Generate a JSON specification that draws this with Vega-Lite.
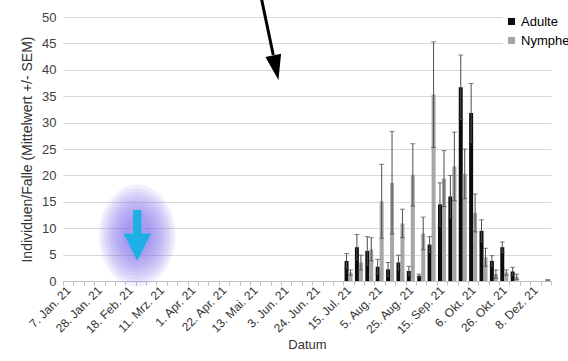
{
  "$schema": "https://vega.github.io/schema/vega-lite/v6.json",
  "width": 488,
  "height": 264,
  "autosize": {"type": "none"},
  "padding": {"left": 63, "top": 17, "right": 17, "bottom": 80},
  "background": "white",
  "config": {"view": {"stroke": null}, "font": "Liberation Sans"},
  "datasets": {
    "bars": [
      {"date": "15. Jul. 21", "series": "Adulte", "mean": 3.8, "lo": 2.4, "hi": 5.2},
      {"date": "15. Jul. 21", "series": "Nymphen", "mean": 1.6, "lo": 1.1, "hi": 2.1},
      {"date": "22. Jul. 21", "series": "Adulte", "mean": 6.4, "lo": 4.0, "hi": 8.8},
      {"date": "22. Jul. 21", "series": "Nymphen", "mean": 3.5, "lo": 2.1, "hi": 4.9},
      {"date": "29. Jul. 21", "series": "Adulte", "mean": 5.7, "lo": 3.0, "hi": 8.4},
      {"date": "29. Jul. 21", "series": "Nymphen", "mean": 6.0, "lo": 3.8, "hi": 8.2},
      {"date": "5. Aug. 21", "series": "Adulte", "mean": 2.7, "lo": 1.3, "hi": 4.1},
      {"date": "5. Aug. 21", "series": "Nymphen", "mean": 15.1, "lo": 8.1, "hi": 22.1},
      {"date": "12. Aug. 21", "series": "Adulte", "mean": 2.2, "lo": 0.9, "hi": 3.5},
      {"date": "12. Aug. 21", "series": "Nymphen", "mean": 18.6, "lo": 8.9, "hi": 28.3},
      {"date": "18. Aug. 21", "series": "Adulte", "mean": 3.5, "lo": 2.1, "hi": 4.9},
      {"date": "18. Aug. 21", "series": "Nymphen", "mean": 10.9, "lo": 8.2, "hi": 13.6},
      {"date": "25. Aug. 21", "series": "Adulte", "mean": 1.9, "lo": 1.0, "hi": 2.8},
      {"date": "25. Aug. 21", "series": "Nymphen", "mean": 20.1, "lo": 14.2, "hi": 26.0},
      {"date": "1. Sep. 21", "series": "Adulte", "mean": 1.0, "lo": 0.7, "hi": 1.3},
      {"date": "1. Sep. 21", "series": "Nymphen", "mean": 9.0, "lo": 5.9, "hi": 12.1},
      {"date": "8. Sep. 21", "series": "Adulte", "mean": 6.9, "lo": 5.4, "hi": 8.4},
      {"date": "8. Sep. 21", "series": "Nymphen", "mean": 35.3, "lo": 25.3, "hi": 45.3},
      {"date": "15. Sep. 21", "series": "Adulte", "mean": 14.5, "lo": 10.4, "hi": 18.6},
      {"date": "15. Sep. 21", "series": "Nymphen", "mean": 19.4, "lo": 14.1, "hi": 24.7},
      {"date": "22. Sep. 21", "series": "Adulte", "mean": 16.0, "lo": 12.0, "hi": 20.0},
      {"date": "22. Sep. 21", "series": "Nymphen", "mean": 21.7, "lo": 15.2, "hi": 28.2},
      {"date": "29. Sep. 21", "series": "Adulte", "mean": 36.7, "lo": 30.6, "hi": 42.8},
      {"date": "29. Sep. 21", "series": "Nymphen", "mean": 20.3, "lo": 15.6, "hi": 25.0},
      {"date": "6. Okt. 21", "series": "Adulte", "mean": 31.8, "lo": 26.2, "hi": 37.4},
      {"date": "6. Okt. 21", "series": "Nymphen", "mean": 12.9, "lo": 9.3, "hi": 16.5},
      {"date": "13. Okt. 21", "series": "Adulte", "mean": 9.5, "lo": 7.4, "hi": 11.6},
      {"date": "13. Okt. 21", "series": "Nymphen", "mean": 4.5, "lo": 2.8, "hi": 6.2},
      {"date": "20. Okt. 21", "series": "Adulte", "mean": 3.8, "lo": 2.8, "hi": 4.8},
      {"date": "20. Okt. 21", "series": "Nymphen", "mean": 1.3, "lo": 0.5, "hi": 2.1},
      {"date": "26. Okt. 21", "series": "Adulte", "mean": 6.4, "lo": 5.4, "hi": 7.4},
      {"date": "26. Okt. 21", "series": "Nymphen", "mean": 1.6, "lo": 1.1, "hi": 2.1},
      {"date": "3. Nov. 21", "series": "Adulte", "mean": 1.8, "lo": 1.0, "hi": 2.6},
      {"date": "3. Nov. 21", "series": "Nymphen", "mean": 0.8, "lo": 0.3, "hi": 1.3},
      {"date": "15. Dez. 21", "series": "Nymphen", "mean": 0.2, "lo": 0.2, "hi": 0.2}
    ],
    "arrow": [{"ax": 19.1, "ay": 53.6}, {"ax": 20.25, "ay": 42.8}],
    "arrowhead": [{"ax": 20.5, "ay": 40.4}],
    "spot": [{"ax": 7.15, "ay": 8.6}]
  },
  "resolve": {"scale": {"x": "independent", "y": "independent"}},
  "layer": [
    {
      "data": {"name": "bars"},
      "encoding": {
        "x": {
          "field": "date", "type": "nominal", "sort": null,
          "scale": {"domain": ["7. Jan. 21","14. Jan. 21","21. Jan. 21","28. Jan. 21","4. Feb. 21","11. Feb. 21","18. Feb. 21","25. Feb. 21","4. Mrz. 21","11. Mrz. 21","18. Mrz. 21","25. Mrz. 21","1. Apr. 21","8. Apr. 21","15. Apr. 21","22. Apr. 21","29. Apr. 21","6. Mai. 21","13. Mai. 21","20. Mai. 21","27. Mai. 21","3. Jun. 21","10. Jun. 21","17. Jun. 21","24. Jun. 21","1. Jul. 21","8. Jul. 21","15. Jul. 21","22. Jul. 21","29. Jul. 21","5. Aug. 21","12. Aug. 21","18. Aug. 21","25. Aug. 21","1. Sep. 21","8. Sep. 21","15. Sep. 21","22. Sep. 21","29. Sep. 21","6. Okt. 21","13. Okt. 21","20. Okt. 21","26. Okt. 21","3. Nov. 21","17. Nov. 21","8. Dez. 21","15. Dez. 21"], "paddingInner": 0, "paddingOuter": 0},
          "axis": {
            "title": "Datum", "titleFontSize": 13, "titleFontWeight": "normal", "titleColor": "#333333", "titlePadding": 3,
            "labelAngle": -45, "labelAlign": "right", "labelBaseline": "middle", "labelFontSize": 12, "labelColor": "#333333",
            "labelPadding": 3, "labelOverlap": false, "labelBound": false,
            "labelExpr": "indexof(['7. Jan. 21','28. Jan. 21','18. Feb. 21','11. Mrz. 21','1. Apr. 21','22. Apr. 21','13. Mai. 21','3. Jun. 21','24. Jun. 21','15. Jul. 21','5. Aug. 21','25. Aug. 21','15. Sep. 21','6. Okt. 21','26. Okt. 21','8. Dez. 21'], datum.value) >= 0 ? datum.value : ''",
            "tickBand": "extent", "tickSize": 4, "tickColor": "#bfbfbf", "domainColor": "#bfbfbf", "grid": false
          }
        },
        "xOffset": {"field": "series", "type": "nominal", "scale": {"domain": ["Adulte", "Nymphen"], "paddingInner": 0, "paddingOuter": 0.3}},
        "y": {
          "type": "quantitative",
          "scale": {"domain": [0, 50], "nice": false},
          "axis": {
            "title": "Individuen/Falle (Mittelwert +/- SEM)", "titleFontSize": 14, "titleFontWeight": "normal", "titleColor": "#333333", "titlePadding": 7,
            "values": [0, 5, 10, 15, 20, 25, 30, 35, 40, 45, 50],
            "labelFontSize": 13, "labelColor": "#404040", "labelPadding": 7,
            "domain": false, "ticks": false, "grid": true, "gridColor": "#d9d9d9"
          }
        }
      },
      "layer": [
        {
          "mark": {"type": "bar"},
          "encoding": {
            "y": {"field": "mean", "type": "quantitative"},
            "color": {
              "field": "series", "type": "nominal",
              "scale": {"domain": ["Adulte", "Nymphen"], "range": ["#0d0d0d", "#a6a6a6"]},
              "legend": {"title": null, "orient": "none", "legendX": 440, "legendY": -4, "symbolType": "square", "symbolSize": 50, "symbolStrokeWidth": 0, "labelFontSize": 13, "labelColor": "#000000", "fillColor": "white", "padding": 2, "rowPadding": 5, "labelOffset": 3}
            }
          }
        },
        {
          "mark": {"type": "rule", "color": "#4d4d4d", "strokeWidth": 1},
          "encoding": {"y": {"field": "lo", "type": "quantitative"}, "y2": {"field": "hi"}}
        },
        {
          "mark": {"type": "tick", "color": "#4d4d4d", "size": 5, "thickness": 1},
          "encoding": {"y": {"field": "hi", "type": "quantitative"}}
        },
        {
          "mark": {"type": "tick", "color": "#4d4d4d", "size": 5, "thickness": 1},
          "encoding": {"y": {"field": "lo", "type": "quantitative"}}
        }
      ]
    },
    {
      "encoding": {
        "x": {"field": "ax", "type": "quantitative", "scale": {"domain": [0, 47], "nice": false, "zero": false}, "axis": null},
        "y": {"field": "ay", "type": "quantitative", "scale": {"domain": [0, 50], "nice": false}, "axis": null}
      },
      "layer": [
        {"data": {"name": "spot"}, "mark": {"type": "point", "filled": true, "shape": "M0,-1A0.75,1,0,1,1,0,1A0.75,1,0,1,1,0,-1Z", "size": 10400, "color": "#7b6ff0", "opacity": 0.1}},
        {"data": {"name": "spot"}, "mark": {"type": "point", "filled": true, "shape": "M0,-1A0.75,1,0,1,1,0,1A0.75,1,0,1,1,0,-1Z", "size": 9000, "color": "#7b6ff0", "opacity": 0.1}},
        {"data": {"name": "spot"}, "mark": {"type": "point", "filled": true, "shape": "M0,-1A0.75,1,0,1,1,0,1A0.75,1,0,1,1,0,-1Z", "size": 7700, "color": "#7b6ff0", "opacity": 0.1}},
        {"data": {"name": "spot"}, "mark": {"type": "point", "filled": true, "shape": "M0,-1A0.75,1,0,1,1,0,1A0.75,1,0,1,1,0,-1Z", "size": 6500, "color": "#7b6ff0", "opacity": 0.1}},
        {"data": {"name": "spot"}, "mark": {"type": "point", "filled": true, "shape": "M0,-1A0.75,1,0,1,1,0,1A0.75,1,0,1,1,0,-1Z", "size": 5400, "color": "#7b6ff0", "opacity": 0.1}},
        {"data": {"name": "spot"}, "mark": {"type": "point", "filled": true, "shape": "M0,-1A0.75,1,0,1,1,0,1A0.75,1,0,1,1,0,-1Z", "size": 4400, "color": "#7b6ff0", "opacity": 0.1}},
        {"data": {"name": "spot"}, "mark": {"type": "point", "filled": true, "shape": "M0,-1A0.75,1,0,1,1,0,1A0.75,1,0,1,1,0,-1Z", "size": 3500, "color": "#7b6ff0", "opacity": 0.1}},
        {"data": {"name": "spot"}, "mark": {"type": "point", "filled": true, "shape": "M0,-1A0.75,1,0,1,1,0,1A0.75,1,0,1,1,0,-1Z", "size": 2700, "color": "#7b6ff0", "opacity": 0.1}},
        {"data": {"name": "spot"}, "mark": {"type": "point", "filled": true, "shape": "M0,-1A0.75,1,0,1,1,0,1A0.75,1,0,1,1,0,-1Z", "size": 2000, "color": "#7b6ff0", "opacity": 0.1}},
        {"data": {"name": "spot"}, "mark": {"type": "point", "filled": true, "shape": "M0,-1A0.75,1,0,1,1,0,1A0.75,1,0,1,1,0,-1Z", "size": 1400, "color": "#7b6ff0", "opacity": 0.1}},
        {"data": {"name": "spot"}, "mark": {"type": "point", "filled": true, "opacity": 1, "color": "#1cb0e6", "size": 2601, "shape": "M-0.163,-1L0.163,-1L0.163,-0.086L0.537,-0.086L0,1L-0.537,-0.086L-0.163,-0.086Z"}},
        {"data": {"name": "arrow"}, "mark": {"type": "line", "color": "#000000", "strokeWidth": 3}},
        {"data": {"name": "arrowhead"}, "mark": {"type": "point", "filled": true, "opacity": 1, "color": "#000000", "size": 625, "angle": 348, "shape": "M-0.64,-1L0.64,-1L0,1Z"}}
      ]
    }
  ]
}
